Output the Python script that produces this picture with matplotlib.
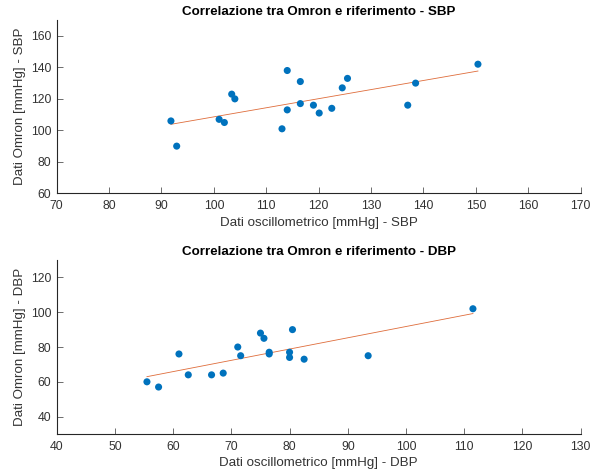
import matplotlib
matplotlib.use('Agg')
import matplotlib.pyplot as plt
import numpy as np

# SBP: oscillometric reference vs Omron
sbp_ref = [91.8, 92.9, 101.0, 102.0, 103.4, 104.0, 113.0, 114.0, 114.0, 116.5,
           116.5, 119.0, 120.1, 122.5, 124.5, 125.5, 137.0, 138.5, 150.4]
sbp_omron = [106, 90, 107, 105, 123, 120, 101, 138, 113, 131,
             117, 116, 111, 114, 127, 133, 116, 130, 142]

# DBP
dbp_ref = [55.5, 57.5, 61.0, 62.6, 66.6, 68.6, 71.1, 71.6, 75.0, 75.6,
           76.5, 76.5, 80.0, 80.0, 80.5, 82.5, 93.5, 111.5]
dbp_omron = [60, 57, 76, 64, 64, 65, 80, 75, 88, 85,
             77, 76, 77, 74, 90, 73, 75, 102]

plt.rcParams['font.family'] = ['Liberation Sans', 'DejaVu Sans']
blue = '#0072BD'
orange = '#D95319'
axcol = '#262626'


def pannello(ax, x, y, xlim, ylim, xt, yt, titolo, xl, yl):
    x = np.array(x)
    y = np.array(y)
    p = np.polyfit(x, y, 1)
    xf = np.array([x.min(), x.max()])
    ax.plot(xf, np.polyval(p, xf), color=orange, lw=0.6, alpha=0.85, zorder=1)
    ax.scatter(x, y, s=26, color=blue, edgecolors='none', zorder=2)
    ax.set_xlim(xlim)
    ax.set_ylim(ylim)
    ax.set_xticks(xt)
    ax.set_yticks(yt)
    ax.spines['top'].set_visible(False)
    ax.spines['right'].set_visible(False)
    for s in ['left', 'bottom']:
        ax.spines[s].set_color(axcol)
        ax.spines[s].set_linewidth(0.8)
    ax.tick_params(direction='in', length=4, width=0.6, color='#555555',
                   labelcolor='#333333', labelsize=8.8)
    ax.tick_params(axis='x', pad=5)
    ax.tick_params(axis='y', pad=4)
    ax.set_title(titolo, fontsize=9.6, fontweight='bold', pad=3.5)
    ax.set_xlabel(xl, fontsize=9.6, color='#333333', labelpad=3)
    ax.set_ylabel(yl, fontsize=9.6, color='#333333', labelpad=3.5)


fig = plt.figure(figsize=(5.92, 4.74), dpi=100)
ax1 = fig.add_axes([0.0958, 0.592, 0.885, 0.3656])
ax2 = fig.add_axes([0.0958, 0.0844, 0.885, 0.367])

pannello(ax1, sbp_ref, sbp_omron, (70, 170), (60, 170),
         np.arange(70, 171, 10), np.arange(60, 161, 20),
         'Correlazione tra Omron e riferimento - SBP',
         'Dati oscillometrico [mmHg] - SBP', 'Dati Omron [mmHg] - SBP')
pannello(ax2, dbp_ref, dbp_omron, (40, 130), (30, 130),
         np.arange(40, 131, 10), np.arange(40, 121, 20),
         'Correlazione tra Omron e riferimento - DBP',
         'Dati oscillometrico [mmHg] - DBP', 'Dati Omron [mmHg] - DBP')

fig.savefig('out.png', dpi=100)
